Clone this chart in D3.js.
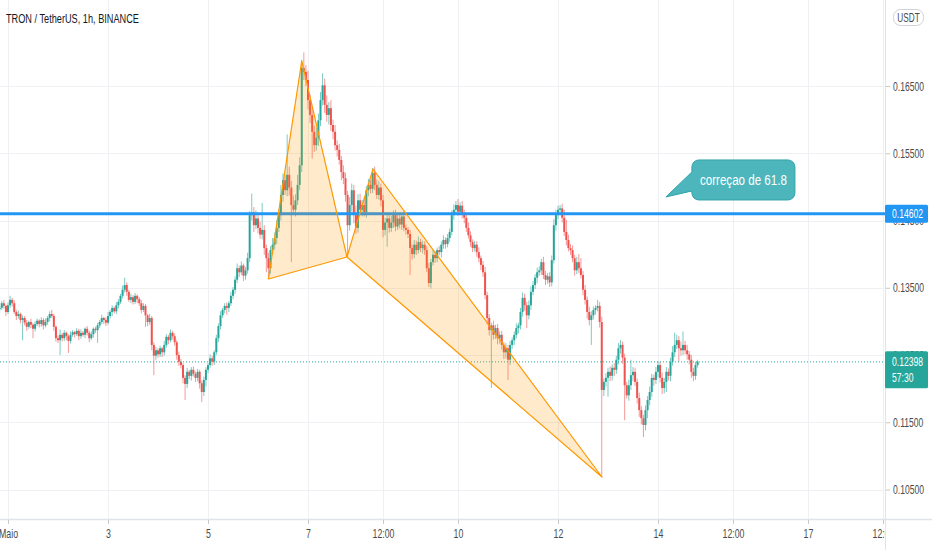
<!DOCTYPE html>
<html lang="pt">
<head>
<meta charset="utf-8">
<title>TRON / TetherUS, 1h</title>
<script src="https://d3js.org/d3.v7.min.js"></script>
<style>
  body { margin: 0; background: #ffffff; }
  svg { display: block; font-family: "Liberation Sans", Arial, sans-serif; }
  .axis text { fill: #4a4a4a; font-size: 12.5px; }
  .axis line { stroke: #c8c8c8; }
  .axis path { display: none; }
</style>
</head>
<body>
<div id="chart"></div>
<script>
// ---- data (prices in units of 0.0001 USDT, one candle per hour) ----
const title = "TRON / TetherUS, 1h, BINANCE"
const firstHour = -4          // first candle = 30 Apr 20:00, hour 0 = 1 May 00:00
const firstOpen = 1318

const closes = [
  1320,1327,1323,1314,1324,1332,1327,1314,1308,1311,1302,1305,
  1298,1292,1299,1295,1289,1296,1301,1296,1302,1294,1299,1305,
  1311,1308,1292,1275,1272,1280,1275,1283,1278,1271,1280,1284,
  1281,1286,1278,1283,1280,1289,1283,1275,1281,1289,1287,1294,
  1299,1305,1302,1298,1308,1314,1320,1315,1324,1329,1338,1347,
  1354,1344,1332,1336,1329,1338,1333,1327,1317,1323,1309,1299,
  1305,1265,1249,1257,1251,1260,1254,1265,1277,1272,1283,1278,
  1269,1250,1240,1235,1216,1207,1225,1219,1228,1222,1216,1225,
  1208,1195,1213,1228,1235,1245,1240,1254,1275,1293,1309,1317,
  1323,1320,1327,1338,1347,1362,1379,1373,1383,1368,1376,1394,
  1458,1462,1443,1453,1439,1429,1436,1409,1394,1379,1406,1414,
  1424,1439,1458,1488,1510,1495,1518,1499,1473,1466,1480,1503,
  1532,1677,1671,1659,1629,1607,1582,1562,1573,1599,1629,1651,
  1622,1607,1617,1592,1582,1562,1555,1540,1522,1513,1488,1443,
  1473,1495,1458,1439,1480,1466,1473,1462,1495,1503,1497,1521,
  1503,1488,1499,1480,1436,1447,1453,1439,1447,1458,1441,1453,
  1444,1456,1439,1436,1430,1409,1400,1414,1406,1418,1409,1414,
  1406,1379,1357,1388,1399,1394,1406,1403,1414,1421,1415,1424,
  1433,1458,1466,1473,1463,1472,1460,1454,1439,1428,1418,1409,
  1414,1403,1394,1384,1373,1339,1305,1287,1294,1280,1290,1275,
  1280,1265,1254,1260,1243,1265,1272,1280,1290,1294,1314,1335,
  1324,1309,1324,1344,1354,1365,1373,1376,1388,1369,1362,1367,
  1358,1391,1443,1458,1466,1468,1454,1433,1421,1409,1406,1394,
  1376,1388,1379,1369,1347,1332,1314,1302,1309,1317,1320,1323,
  1299,1198,1210,1216,1225,1219,1231,1228,1243,1260,1265,1246,
  1205,1190,1205,1220,1225,1210,1186,1168,1156,1146,1168,1183,
  1195,1216,1213,1225,1235,1216,1201,1210,1225,1219,1240,1254,
  1265,1272,1260,1257,1265,1257,1251,1243,1225,1219,1235,1240
]

// wick length above the body / below the body
const wickUp = [
  4,3,5,2,4,6,3,4,3,5,2,4,
  3,4,2,5,3,4,3,2,4,3,5,3,
  4,6,3,2,4,8,3,4,2,3,5,3,
  2,4,3,5,3,2,4,3,4,2,3,4,
  3,5,2,4,6,3,4,2,5,4,3,6,
  11,4,3,5,3,4,2,3,5,4,3,2,
  6,3,4,5,3,4,2,6,4,3,5,3,
  4,3,5,4,3,4,6,3,4,5,3,4,
  3,4,5,4,3,6,4,3,5,4,6,3,
  4,5,3,6,4,5,7,4,6,3,5,8,
  6,28,8,12,6,9,40,7,5,8,6,10,
  8,12,9,15,10,8,60,12,10,14,9,15,
  12,12,23,10,14,8,12,9,15,10,12,18,
  10,14,9,12,8,10,7,9,6,10,8,6,
  12,10,8,14,9,10,8,12,6,9,7,7,
  9,8,10,6,8,7,9,6,10,7,8,6,
  7,6,8,5,4,6,5,7,6,8,5,6,
  5,6,8,5,7,6,4,6,5,7,4,6,
  5,7,8,6,9,5,7,6,5,8,6,4,
  6,5,7,4,6,8,5,6,4,7,5,6,
  5,6,4,8,5,6,4,5,7,4,6,8,
  6,5,7,8,6,5,7,6,5,8,6,5,
  6,7,9,8,6,5,7,12,18,8,6,7,
  5,8,12,15,6,7,5,8,6,5,4,9,
  6,8,5,7,6,8,5,7,6,8,7,5,
  6,5,8,23,7,6,5,8,6,5,7,6,
  8,6,5,7,6,5,8,6,7,5,6,9,
  18,8,6,10,20,6,8,5,7,6,5,3
]
const wickDown = [
  5,3,4,6,3,4,5,3,6,4,5,30,
  4,6,3,5,14,4,3,5,4,6,3,4,
  5,3,6,5,4,22,5,4,6,18,4,3,
  5,3,6,4,3,5,4,6,3,5,4,19,
  4,3,6,5,3,4,6,3,4,5,3,4,
  4,6,3,5,4,3,6,4,5,3,17,6,
  4,8,29,6,5,4,7,5,4,6,3,5,
  5,7,6,5,8,24,6,5,7,4,6,5,
  8,15,6,10,5,4,6,5,4,6,5,4,
  5,10,6,4,5,6,5,7,4,8,6,5,
  6,8,10,6,8,6,7,10,21,16,8,6,
  7,9,6,8,10,7,9,12,85,8,10,7,
  8,10,12,9,14,12,40,10,8,12,9,8,
  12,10,14,9,11,8,10,7,12,9,10,47,
  8,10,12,9,7,8,10,6,8,9,7,6,
  8,6,7,9,11,8,36,7,6,8,7,5,
  6,8,5,7,6,40,8,6,7,5,6,8,
  7,6,6,8,5,7,6,5,8,6,7,5,
  6,5,7,8,6,5,7,8,6,5,7,6,
  5,7,6,8,7,6,10,8,86,7,6,9,
  8,7,10,9,30,8,6,7,5,8,6,7,
  8,19,6,7,5,6,8,5,7,6,8,6,
  7,6,5,8,6,5,7,6,8,5,7,6,
  8,6,7,5,8,7,10,8,37,6,7,5,
  8,130,9,7,28,8,7,9,6,7,8,9,
  52,5,8,7,9,6,8,10,9,18,8,12,
  8,7,9,6,8,7,9,8,15,7,8,6,
  7,6,20,8,7,6,8,7,9,8,6,4
]

const yTicks = [0.105, 0.115, 0.125, 0.135, 0.145, 0.155, 0.165]
const xTicks = [0, 48, 96, 144, 180, 216, 264, 312, 348, 384, 420]
const xTickLabels = ["Maio", "3", "5", "7", "12:00", "10", "12", "14", "12:00", "17", "12:00"]

const levelPrice = 0.14602
const lastPrice = 0.12398
const countdown = "57:30"

// harmonic pattern points X, A, B, C, D
const patternHours = [125, 141, 162.7, 175.2, 285.1]
const patternPrices = [0.1363, 0.16872, 0.13957, 0.15266, 0.10686]

const noteText = "correçao de 61.8"
const noteHour = 315.8
const notePrice = 0.1485

// ---- layout ----
const width = 932
const height = 550
const plotRight = 885
const plotBottom = 519

const upColor = "#26a69a"
const downColor = "#ef5350"

const x = d3.scaleLinear().domain([0, 420]).range([8, 883])
const y = d3.scaleLinear().domain([0.105, 0.165]).range([489.5, 86])

const candles = closes.map((c, i) => {
  const o = i === 0 ? firstOpen : closes[i - 1]
  return {
    t: firstHour + i,
    o: o / 1e4,
    c: c / 1e4,
    h: (Math.max(o, c) + wickUp[i]) / 1e4,
    l: (Math.min(o, c) - wickDown[i]) / 1e4
  }
})

const svg = d3.select("#chart").append("svg")
  .attr("width", width)
  .attr("height", height)

svg.append("rect").attr("width", width).attr("height", height).attr("fill", "#ffffff")

// the screenshot uses a condensed face: measure and squeeze horizontally
function measure(str, size) {
  const t = svg.append("text").style("font-size", size + "px").text(str)
  const w = t.node().getComputedTextLength()
  t.remove()
  return w
}
const axisSx = 31 / measure("0.16500", 12.5)
const timeSx = 22 / measure("12:00", 12.5)
const titleSx = 133 / measure(title, 13)
const noteSx = 87 / measure(noteText, 15)

function squeeze(sel, sx) {
  sel.each(function() {
    const t = d3.select(this)
    const tx = +t.attr("x") || 0
    const ty = +t.attr("y") || 0
    t.attr("x", 0).attr("y", 0)
      .attr("transform", "translate(" + tx + "," + ty + ") scale(" + sx + ",1)")
  })
}

const defs = svg.append("defs")
defs.append("clipPath").attr("id", "plotClip")
  .append("rect").attr("x", 0).attr("y", 0).attr("width", plotRight).attr("height", plotBottom)
defs.append("clipPath").attr("id", "timeClip")
  .append("rect").attr("x", -20).attr("y", 0).attr("width", plotRight + 20).attr("height", height - plotBottom)

// grid
const grid = svg.append("g").attr("clip-path", "url(#plotClip)")
grid.selectAll("line.hgrid")
  .data(yTicks)
  .enter().append("line")
  .attr("x1", 0).attr("x2", plotRight)
  .attr("y1", d => Math.round(y(d)) + 0.5).attr("y2", d => Math.round(y(d)) + 0.5)
  .attr("stroke", "#eff0f3")
grid.selectAll("line.vgrid")
  .data(xTicks)
  .enter().append("line")
  .attr("x1", d => Math.round(x(d)) + 0.5).attr("x2", d => Math.round(x(d)) + 0.5)
  .attr("y1", 0).attr("y2", plotBottom)
  .attr("stroke", "#eff0f3")

// title
svg.append("text")
  .attr("x", 6).attr("y", 23)
  .attr("fill", "#131722")
  .style("font-size", "13px")
  .text(title)
  .call(squeeze, titleSx)

const plot = svg.append("g").attr("clip-path", "url(#plotClip)")

// candles
plot.selectAll("line.wick")
  .data(candles)
  .enter().append("line")
  .attr("x1", d => x(d.t)).attr("x2", d => x(d.t))
  .attr("y1", d => y(d.h)).attr("y2", d => y(d.l))
  .attr("stroke", d => d.c >= d.o ? upColor : downColor)
  .attr("stroke-opacity", 0.6)
  .attr("stroke-width", 1)

plot.selectAll("rect.body")
  .data(candles)
  .enter().append("rect")
  .attr("x", d => x(d.t) - 1)
  .attr("width", 2)
  .attr("y", d => y(Math.max(d.o, d.c)))
  .attr("height", d => Math.max(1, Math.abs(y(d.o) - y(d.c))))
  .attr("fill", d => d.c >= d.o ? upColor : downColor)

// last price dotted line
plot.append("line")
  .attr("x1", 0).attr("x2", plotRight)
  .attr("y1", y(lastPrice)).attr("y2", y(lastPrice))
  .attr("stroke", upColor)
  .attr("stroke-dasharray", "1,2")

// horizontal level
plot.append("line")
  .attr("x1", 0).attr("x2", plotRight)
  .attr("y1", y(levelPrice)).attr("y2", y(levelPrice))
  .attr("stroke", "#2196f3")
  .attr("stroke-width", 3)

// pattern triangles XAB and BCD
const pts = patternHours.map((h, i) => [x(h), y(patternPrices[i])])
const tri = [[pts[0], pts[1], pts[2]], [pts[2], pts[3], pts[4]]]
plot.selectAll("path.tri")
  .data(tri)
  .enter().append("path")
  .attr("d", d => "M" + d.map(p => p.join(",")).join("L") + "Z")
  .attr("fill", "#ff9800")
  .attr("fill-opacity", 0.2)
  .attr("stroke", "#ff9800")
  .attr("stroke-width", 1.2)
  .attr("stroke-linejoin", "round")

// callout
const tipX = x(noteHour)
const tipY = y(notePrice)
const bx = tipX + 26, by = tipY - 37, bw = 103, bh = 40, r = 7
const cp = d3.path()
cp.moveTo(bx + r, by)
cp.lineTo(bx + bw - r, by)
cp.arcTo(bx + bw, by, bx + bw, by + r, r)
cp.lineTo(bx + bw, by + bh - r)
cp.arcTo(bx + bw, by + bh, bx + bw - r, by + bh, r)
cp.lineTo(bx + r, by + bh)
cp.arcTo(bx, by + bh, bx, by + bh - r, r)
cp.lineTo(bx, by + 31)
cp.lineTo(tipX, tipY)
cp.lineTo(bx, by + 12)
cp.lineTo(bx, by + r)
cp.arcTo(bx, by, bx + r, by, r)
cp.closePath()
svg.append("path")
  .attr("d", cp.toString())
  .attr("fill", "#4db6bc")
  .attr("stroke", "#2ea3a9")
  .attr("stroke-width", 1)
svg.append("text")
  .attr("x", bx + bw / 2).attr("y", by + bh / 2 + 5.5)
  .attr("text-anchor", "middle")
  .attr("fill", "#ffffff")
  .style("font-size", "15px")
  .text(noteText)
  .call(squeeze, noteSx)

// axes borders
svg.append("line")
  .attr("x1", 0).attr("x2", width)
  .attr("y1", plotBottom + 0.5).attr("y2", plotBottom + 0.5)
  .attr("stroke", "#e0e3eb").attr("stroke-width", 1.5)
svg.append("line")
  .attr("x1", plotRight + 0.5).attr("x2", plotRight + 0.5)
  .attr("y1", 0).attr("y2", height)
  .attr("stroke", "#e0e3eb")

// price axis
svg.append("g")
  .attr("class", "axis")
  .attr("transform", "translate(" + (plotRight + 1) + ",0)")
  .call(d3.axisRight(y).tickValues(yTicks).tickFormat(d3.format(".5f")).tickSize(4).tickPadding(3))
  .selectAll("text").call(squeeze, axisSx)

// time axis
svg.append("g")
  .attr("class", "axis")
  .attr("clip-path", "url(#timeClip)")
  .attr("transform", "translate(0," + (plotBottom + 1) + ")")
  .call(d3.axisBottom(x).tickValues(xTicks).tickFormat((d, i) => xTickLabels[i]).tickSize(4).tickPadding(5))
  .selectAll("text").call(squeeze, timeSx)

// currency pill
svg.append("rect")
  .attr("x", 893.5).attr("y", 9.5).attr("width", 30).attr("height", 16).attr("rx", 7)
  .attr("fill", "#ffffff").attr("stroke", "#cfd2d8")
svg.append("text")
  .attr("x", 908.5).attr("y", 22)
  .attr("text-anchor", "middle")
  .attr("fill", "#4a4a4a")
  .style("font-size", "12px")
  .text("USDT")
  .call(squeeze, axisSx)

// level price label
const ly = y(levelPrice)
svg.append("rect")
  .attr("x", plotRight).attr("y", ly - 9).attr("width", 43).attr("height", 18).attr("rx", 1.5)
  .attr("fill", "#2196f3")
svg.append("text")
  .attr("x", 892).attr("y", ly + 4.5)
  .attr("fill", "#ffffff")
  .style("font-size", "12.5px")
  .text(d3.format(".5f")(levelPrice))
  .call(squeeze, axisSx)

// last price label with countdown
const py = y(lastPrice)
svg.append("rect")
  .attr("x", plotRight).attr("y", py - 10.5).attr("width", 43).attr("height", 37).attr("rx", 1.5)
  .attr("fill", upColor)
svg.append("text")
  .attr("x", 892).attr("y", py + 4.5)
  .attr("fill", "#ffffff")
  .style("font-size", "12.5px")
  .text(d3.format(".5f")(lastPrice))
  .call(squeeze, axisSx)
svg.append("text")
  .attr("x", 892).attr("y", py + 20.5)
  .attr("fill", "#ffffff")
  .style("font-size", "12.5px")
  .text(countdown)
  .call(squeeze, axisSx)
</script>
</body>
</html>
